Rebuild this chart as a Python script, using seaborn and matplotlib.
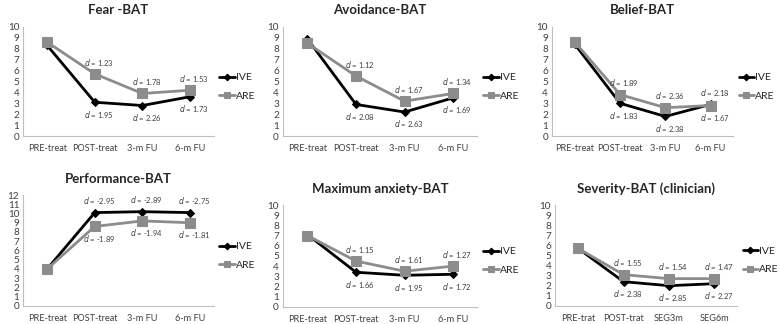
import numpy as np
import pandas as pd
import matplotlib
matplotlib.use('Agg')
import matplotlib.pyplot as plt
import seaborn as sns

sns.set_style('white')
plt.rcParams['font.family'] = ['Lato', 'DejaVu Sans']

# Data
times_a = ['PRE-treat', 'POST-treat', '3-m FU', '6-m FU']
times_b = ['PRE-trat', 'POST-trat', 'SEG3m', 'SEG6m']

titles = ['Fear -BAT', 'Avoidance-BAT', 'Belief-BAT',
          'Performance-BAT', 'Maximum anxiety-BAT', 'Severity-BAT (clinician)']

ive = [
    [8.3, 3.1, 2.8, 3.6],
    [8.9, 2.9, 2.2, 3.5],
    [8.4, 3.0, 1.8, 2.9],
    [4.0, 10.1, 10.2, 10.1],
    [7.1, 3.4, 3.1, 3.2],
    [5.7, 2.4, 2.0, 2.2],
]
are = [
    [8.6, 5.7, 3.9, 4.2],
    [8.5, 5.5, 3.2, 3.9],
    [8.6, 3.8, 2.6, 2.8],
    [4.0, 8.6, 9.2, 9.0],
    [7.0, 4.5, 3.5, 4.0],
    [5.7, 3.1, 2.7, 2.7],
]
# effect sizes written above / below the points (POST, 3-m, 6-m)
d_top = [
    ['1.23', '1.78', '1.53'],
    ['1.12', '1.67', '1.34'],
    ['1.89', '2.36', '2.18'],
    ['-2.95', '-2.89', '-2.75'],
    ['1.15', '1.61', '1.27'],
    ['1.55', '1.54', '1.47'],
]
d_bottom = [
    ['1.95', '2.26', '1.73'],
    ['2.08', '2.63', '1.69'],
    ['1.83', '2.38', '1.67'],
    ['-1.89', '-1.94', '-1.81'],
    ['1.66', '1.95', '1.72'],
    ['2.38', '2.85', '2.27'],
]
y_max = [10, 10, 10, 12, 10, 10]

# axes boxes in figure fraction (left, bottom, width, height)
boxes = [
    (0.030, 0.580, 0.244, 0.337),
    (0.363, 0.580, 0.249, 0.337),
    (0.708, 0.580, 0.232, 0.337),
    (0.030, 0.056, 0.244, 0.342),
    (0.363, 0.053, 0.249, 0.314),
    (0.712, 0.056, 0.233, 0.311),
]

colors = {'IVE': 'black', 'ARE': '#8c8c8c'}
markers = {'IVE': 'D', 'ARE': 's'}
msizes = {'IVE': 4.5, 'ARE': 6.5}
spine_col = '#bfbfbf'

fig = plt.figure(figsize=(7.8, 3.24), dpi=100)

for i in range(6):
    ax = fig.add_axes(boxes[i])
    cats = times_b if i == 5 else times_a
    df = pd.DataFrame({
        'time': cats * 2,
        'score': ive[i] + are[i],
        'group': ['IVE'] * 4 + ['ARE'] * 4,
    })
    for g in ['IVE', 'ARE']:
        sub = df[df['group'] == g]
        sns.lineplot(data=sub, x='time', y='score', color=colors[g], marker=markers[g],
                     markersize=msizes[g], markeredgecolor=colors[g], linewidth=2,
                     sort=False, label=g, ax=ax)

    ax.set_xlim(-0.5, 3.5)
    ax.set_ylim(0, y_max[i])
    ax.set_yticks(range(0, y_max[i] + 1))
    ax.set_xlabel('')
    ax.set_ylabel('')
    ax.tick_params(axis='y', length=0, labelsize=7.2, colors='#404040', pad=3)
    ax.tick_params(axis='x', length=0, labelsize=6.6, colors='#404040', pad=6)
    for s in ['top', 'right']:
        ax.spines[s].set_visible(False)
    for s in ['left', 'bottom']:
        ax.spines[s].set_color(spine_col)
        ax.spines[s].set_linewidth(0.8)
    ax.set_title(titles[i], fontsize=9.5, fontweight='bold', pad=9)

    # d annotations
    for j in range(1, 4):
        hi = max(ive[i][j], are[i][j])
        lo = min(ive[i][j], are[i][j])
        ax.annotate(f'$d$ = {d_top[i][j-1]}', (j, hi), xytext=(3, 8.5),
                    textcoords='offset points', ha='center', va='center',
                    fontsize=5.5, color='#404040')
        ax.annotate(f'$d$ = {d_bottom[i][j-1]}', (j, lo), xytext=(3, -8.5),
                    textcoords='offset points', ha='center', va='center',
                    fontsize=5.5, color='#404040')

    ax.legend(loc='center left', bbox_to_anchor=(1.03, 0.45), frameon=False,
              fontsize=7.5, handlelength=1.5, handletextpad=0.1, labelspacing=0.9,
              markerscale=0.75, borderaxespad=0, borderpad=0)

fig.savefig('out.png', dpi=100)
